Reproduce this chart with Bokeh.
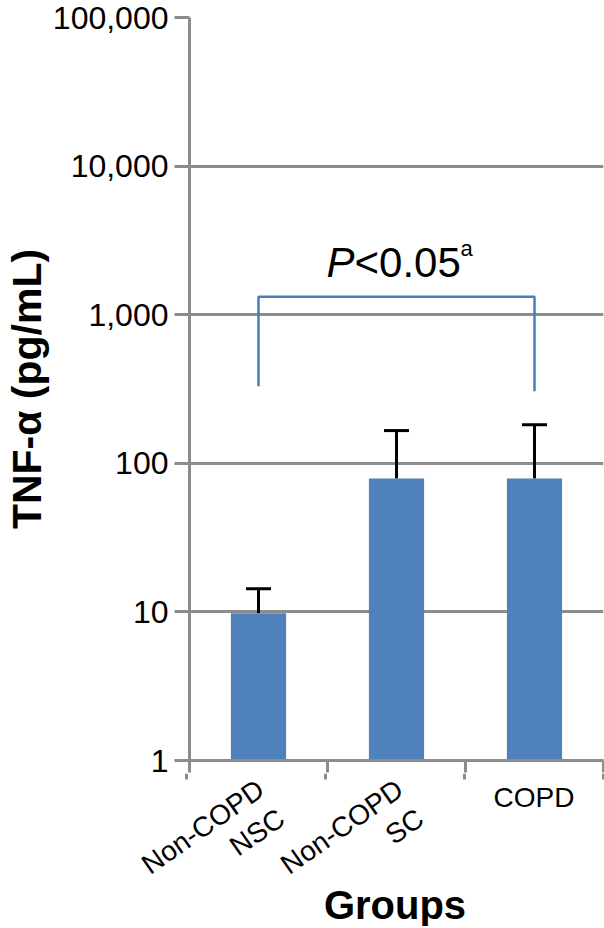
from bokeh.plotting import figure
from bokeh.layouts import column
from bokeh.models import (Range1d, FixedTicker, NumeralTickFormatter, LinearAxis,
                          ColumnDataSource, Whisker, TeeHead, Label, CustomJSTickFormatter)
from bokeh.embed import file_html
from bokeh.resources import INLINE
import math

# ---- data ----
categories = ["Non-COPD NSC", "Non-COPD SC", "COPD"]
category_labels = ["Non-COPD\nNSC", "Non-COPD\nSC", "COPD"]
label_angles_deg = [35, 35, 0]
means = [9.8, 79, 79]
upper_err = [14.3, 166, 182]
y_ticks = [1, 10, 100, 1000, 10000, 100000]
bracket_groups = [0, 0, 2, 2]          # categories joined by the significance bracket
bracket_y = [330, 1320, 1320, 305]
sig_group = 1
sig_y = 2250
sig_p = "P"
sig_main = "<0.05"
sig_sup = "a"
x_title = "Groups"
y_title = "TNF-α (pg/mL)"

FONT = "Liberation Sans"
GRAY = "#8c8c8c"
BLUE = "#4f81bd"

# ---- layout constants (pixels) ----
W = 604
H_TOTAL = 926
BORDER_L, BORDER_R, BORDER_T, BORDER_B = 186, 1, 17, 13
TICK_IN_P1 = 12          # part of the x ticks drawn by the main axis
TICK_REST = 6            # remainder of the x ticks, drawn in the label strip
H1 = 773
H2 = H_TOTAL - H1

n = len(categories)
centers = [i + 0.5 for i in range(n)]
edges = list(range(n + 1))
X0, X1 = 0, n

p = figure(x_range=Range1d(X0, X1), y_axis_type="log", y_range=Range1d(1, 100000),
           width=W, height=H1, output_backend="svg", toolbar_location=None,
           x_axis_location=None, min_border_left=BORDER_L, min_border_right=BORDER_R,
           min_border_top=BORDER_T, min_border_bottom=BORDER_B)
p.frame_align = False
p.outline_line_color = None
p.xgrid.visible = False
p.ygrid.grid_line_color = GRAY
p.ygrid.grid_line_width = 3

src = ColumnDataSource(dict(x=centers, top=means, upper=upper_err, lower=means))
p.vbar(x="x", top="top", bottom=1, width=0.4, source=src, fill_color=BLUE, line_color=None)

w = Whisker(base="x", upper="upper", lower="lower", source=src, line_width=3, line_color="black",
            upper_head=TeeHead(size=25, line_width=3, line_color="black"), lower_head=None)
p.add_layout(w)

p.line(x=[centers[g] for g in bracket_groups], y=bracket_y, line_color="#4a7ebb", line_width=2.5)

# y axis
ya = p.yaxis[0]
ya.ticker = FixedTicker(ticks=y_ticks, minor_ticks=[])
ya.formatter = NumeralTickFormatter(format="0,0")
ya.major_label_text_font = FONT
ya.major_label_text_font_size = "32px"
ya.major_label_text_color = "black"
ya.major_label_standoff = 6
ya.major_tick_out = 15
ya.major_tick_in = 0
ya.minor_tick_out = 0
ya.minor_tick_in = 0
ya.major_tick_line_color = GRAY
ya.major_tick_line_width = 3
ya.axis_line_color = GRAY
ya.axis_line_width = 3
ya.axis_label = y_title
ya.axis_label_text_font = FONT
ya.axis_label_text_font_style = "bold"
ya.axis_label_text_font_size = "41px"
ya.axis_label_text_color = "black"
ya.axis_label_standoff = 0

# x axis: line and ticks at the category boundaries
xa = LinearAxis(ticker=FixedTicker(ticks=edges, minor_ticks=[]),
                formatter=CustomJSTickFormatter(code="return ''"),
                major_label_text_font_size="1px", major_label_standoff=0,
                major_tick_out=TICK_IN_P1, major_tick_in=0, minor_tick_out=0, minor_tick_in=0,
                major_tick_line_color=GRAY, major_tick_line_width=3,
                axis_line_color=GRAY, axis_line_width=3)
p.add_layout(xa, "below")

# significance text
sx = centers[sig_group]
p.add_layout(Label(x=sx, y=sig_y, text=sig_p, text_font=FONT, text_font_style="italic",
                   text_font_size="42px", text_align="left", text_baseline="alphabetic",
                   x_offset=-70, text_color="black"))
p.add_layout(Label(x=sx, y=sig_y, text=sig_main, text_font=FONT,
                   text_font_size="42px", text_align="left", text_baseline="alphabetic",
                   x_offset=-42, text_color="black"))
p.add_layout(Label(x=sx, y=sig_y, text=sig_sup, text_font=FONT,
                   text_font_size="22px", text_align="left", text_baseline="alphabetic",
                   x_offset=64, y_offset=14, text_color="black"))

# ---- label strip below, using the same x scale as the main frame ----
frame_l, frame_r = BORDER_L, W - BORDER_R
scale = (frame_r - frame_l) / (X1 - X0)
x2_start = X0 - frame_l / scale
x2_end = X1 + (W - frame_r) / scale

p2 = figure(x_range=Range1d(x2_start, x2_end), y_range=Range1d(H2, 0),
            width=W, height=H2, output_backend="svg", toolbar_location=None,
            x_axis_location=None, y_axis_location=None,
            min_border_left=0, min_border_right=0, min_border_top=0, min_border_bottom=0)
p2.frame_align = False
p2.outline_line_color = None
p2.grid.visible = False

# remaining part of the x ticks
p2.segment(x0=edges, y0=[0] * len(edges), x1=edges, y1=[TICK_REST] * len(edges),
           line_color=GRAY, line_width=3)

for cx, lab, ang in zip(centers, category_labels, label_angles_deg):
    p2.add_layout(Label(x=cx, y=(0 if ang else 8), text=lab,
                        angle=math.radians(ang), text_align="right" if ang else "center",
                        text_baseline="top", x_offset=(-4 if ang else 0),
                        text_font=FONT, text_font_size="28px", text_color="black",
                        text_line_height=1.15))

p2.add_layout(Label(x=(X0 + X1) / 2, y=109, text=x_title, text_font=FONT,
                    text_font_style="bold", text_font_size="40px", text_align="center",
                    text_baseline="top", text_color="black"))

layout = column(p, p2, spacing=0)
open("out.html", "w").write(file_html(layout, INLINE))
